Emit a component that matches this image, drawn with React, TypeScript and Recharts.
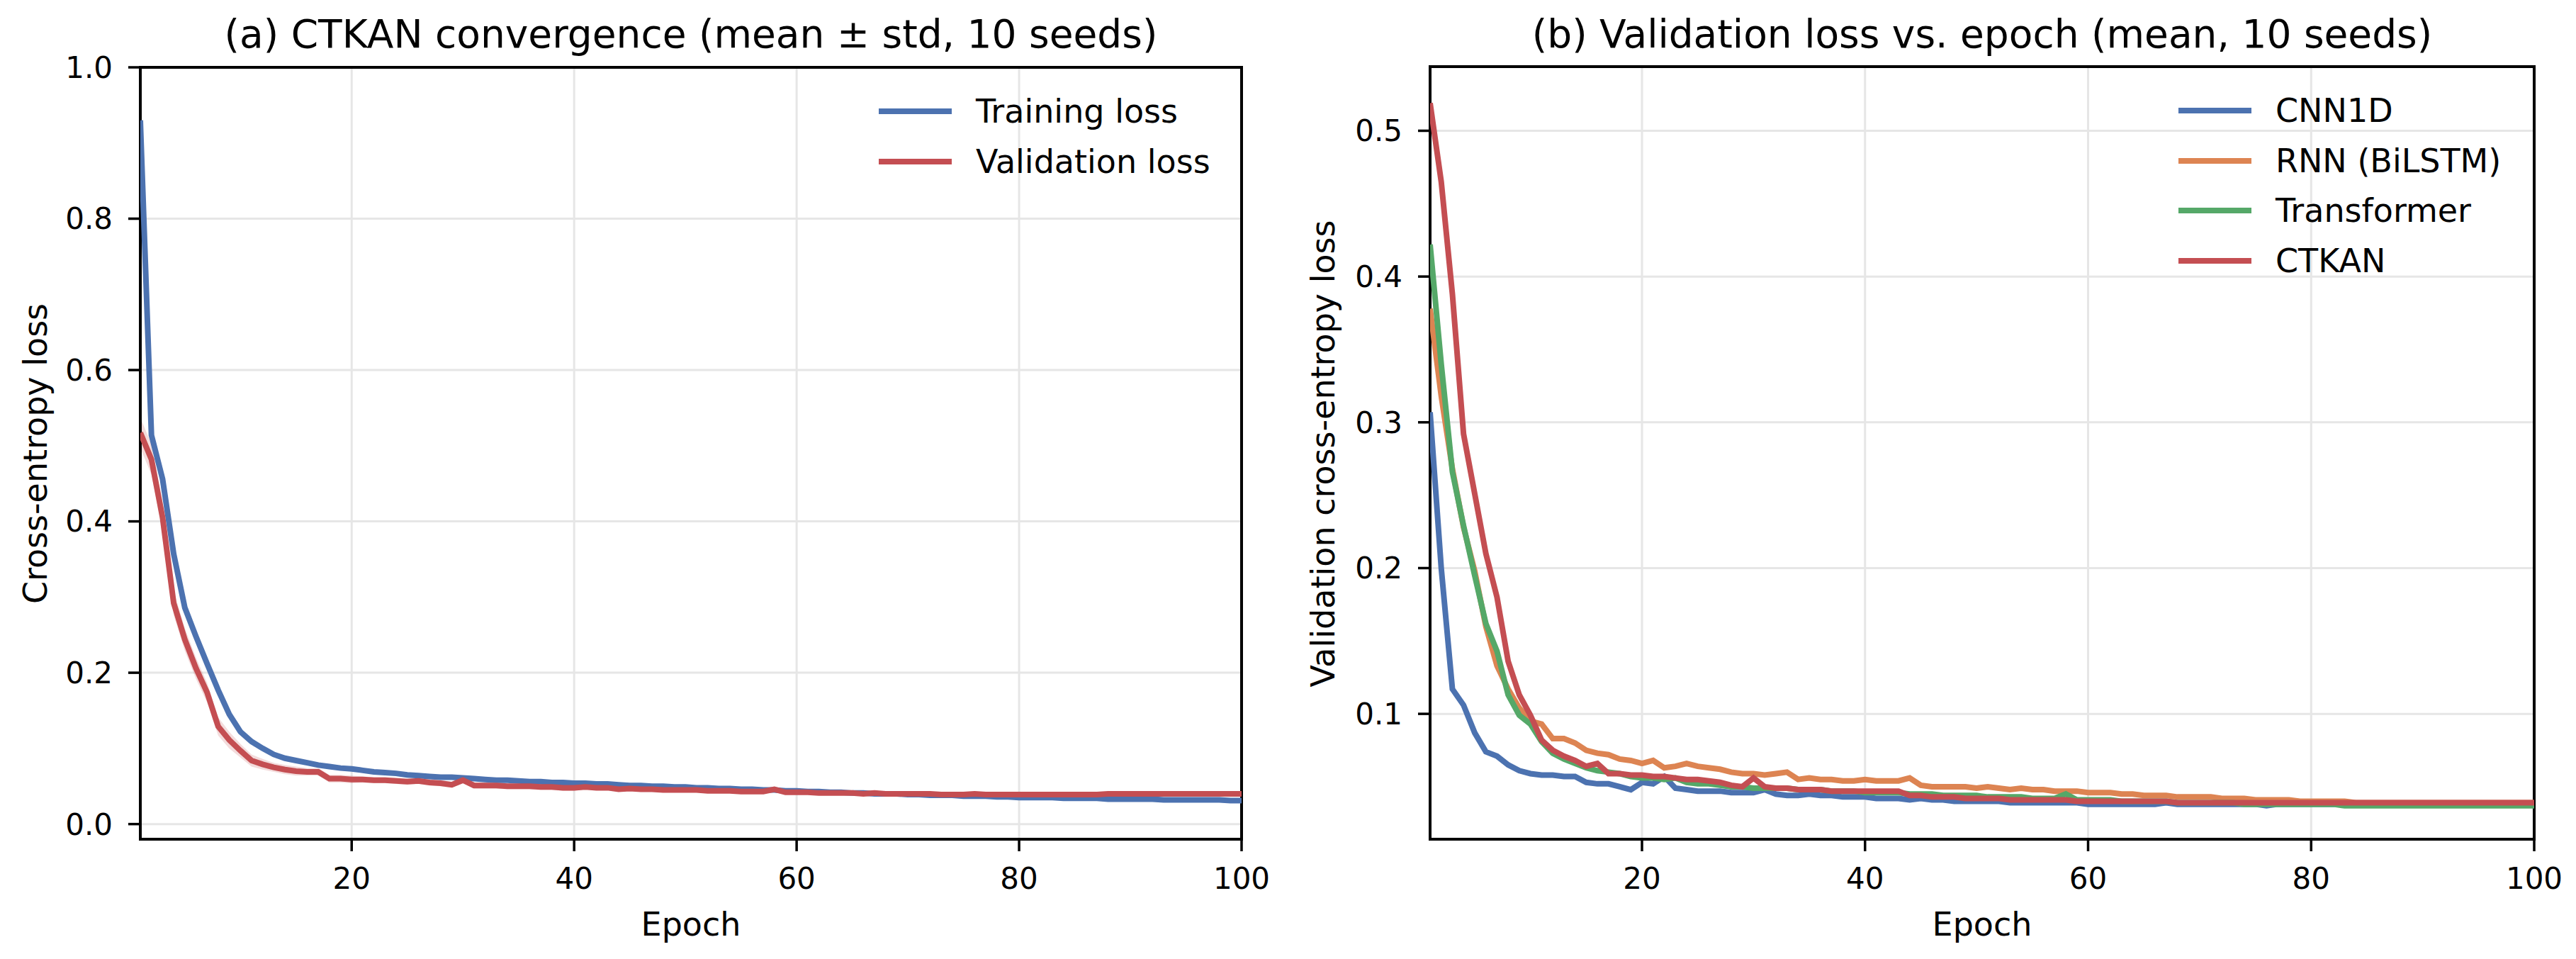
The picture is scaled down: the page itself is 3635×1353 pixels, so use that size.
import React from "react";
import {
  ComposedChart,
  LineChart,
  Line,
  Area,
  XAxis,
  YAxis,
  CartesianGrid,
  ReferenceArea,
  Legend,
} from "recharts";

const FONT = '"DejaVu Sans", sans-serif';
const BLUE = "#4C72B0";
const RED = "#C44E52";
const ORANGE = "#DD8452";
const GREEN = "#55A868";
const GRID = "#e6e6e6";

const EPOCH_TICKS = [20, 40, 60, 80, 100];
const Y_TICKS_A = [0, 0.2, 0.4, 0.6, 0.8, 1.0];
const Y_TICKS_B = [0.1, 0.2, 0.3, 0.4, 0.5];
const Y_DOMAIN_A: [number, number] = [-0.02, 1.0];
const Y_DOMAIN_B: [number, number] = [0.014, 0.544];

// (a) CTKAN mean curves and std over 10 seeds
const trainLoss = [
  0.930, 0.514, 0.456, 0.357, 0.286, 0.248, 0.212, 0.177, 0.145, 0.122,
  0.109, 0.100, 0.092, 0.087, 0.084, 0.081, 0.078, 0.076, 0.074, 0.073,
  0.071, 0.069, 0.068, 0.067, 0.065, 0.064, 0.063, 0.062, 0.062, 0.061,
  0.060, 0.059, 0.058, 0.058, 0.057, 0.056, 0.056, 0.055, 0.055, 0.054,
  0.054, 0.053, 0.053, 0.052, 0.051, 0.051, 0.050, 0.050, 0.049, 0.049,
  0.048, 0.048, 0.047, 0.047, 0.046, 0.046, 0.045, 0.045, 0.044, 0.044,
  0.043, 0.043, 0.042, 0.042, 0.041, 0.041, 0.040, 0.040, 0.040, 0.039,
  0.039, 0.038, 0.038, 0.038, 0.037, 0.037, 0.037, 0.036, 0.036, 0.035,
  0.035, 0.035, 0.035, 0.034, 0.034, 0.034, 0.034, 0.033, 0.033, 0.033,
  0.033, 0.033, 0.032, 0.032, 0.032, 0.032, 0.032, 0.032, 0.031, 0.031,
];
const trainStd = [
  0.010, 0.008, 0.007, 0.006, 0.005, 0.005, 0.004, 0.004, 0.004, 0.003,
  0.003, 0.003, 0.003, 0.003, 0.003, 0.003, 0.003, 0.003, 0.003, 0.003,
  0.002, 0.002, 0.002, 0.002, 0.002, 0.002, 0.002, 0.002, 0.002, 0.002,
  0.002, 0.002, 0.002, 0.002, 0.002, 0.002, 0.002, 0.002, 0.002, 0.002,
  0.002, 0.002, 0.002, 0.002, 0.002, 0.002, 0.002, 0.002, 0.002, 0.002,
  0.002, 0.002, 0.002, 0.002, 0.002, 0.002, 0.002, 0.002, 0.002, 0.002,
  0.002, 0.002, 0.002, 0.002, 0.002, 0.002, 0.002, 0.002, 0.002, 0.002,
  0.002, 0.002, 0.002, 0.002, 0.002, 0.002, 0.002, 0.002, 0.002, 0.002,
  0.002, 0.002, 0.002, 0.002, 0.002, 0.002, 0.002, 0.002, 0.002, 0.002,
  0.002, 0.002, 0.002, 0.002, 0.002, 0.002, 0.002, 0.002, 0.002, 0.002,
];
const valLoss = [
  0.517, 0.482, 0.405, 0.292, 0.244, 0.206, 0.174, 0.129, 0.111, 0.097,
  0.084, 0.079, 0.075, 0.072, 0.070, 0.069, 0.069, 0.060, 0.060, 0.059,
  0.059, 0.058, 0.058, 0.057, 0.056, 0.057, 0.055, 0.054, 0.052, 0.058,
  0.051, 0.051, 0.051, 0.050, 0.050, 0.050, 0.049, 0.049, 0.048, 0.048,
  0.049, 0.048, 0.048, 0.046, 0.047, 0.046, 0.046, 0.045, 0.045, 0.045,
  0.045, 0.044, 0.044, 0.044, 0.043, 0.043, 0.043, 0.046, 0.042, 0.042,
  0.042, 0.041, 0.041, 0.041, 0.041, 0.040, 0.041, 0.040, 0.040, 0.040,
  0.040, 0.040, 0.039, 0.039, 0.039, 0.040, 0.039, 0.039, 0.039, 0.039,
  0.039, 0.039, 0.039, 0.039, 0.039, 0.039, 0.039, 0.040, 0.040, 0.040,
  0.040, 0.040, 0.040, 0.040, 0.040, 0.040, 0.040, 0.040, 0.040, 0.040,
];
const valStd = [
  0.020, 0.020, 0.018, 0.016, 0.015, 0.014, 0.013, 0.012, 0.011, 0.009,
  0.008, 0.007, 0.006, 0.006, 0.006, 0.005, 0.005, 0.005, 0.005, 0.005,
  0.004, 0.004, 0.004, 0.004, 0.004, 0.004, 0.004, 0.004, 0.004, 0.004,
  0.004, 0.004, 0.004, 0.004, 0.004, 0.004, 0.004, 0.004, 0.004, 0.004,
  0.003, 0.003, 0.003, 0.003, 0.003, 0.003, 0.003, 0.003, 0.003, 0.003,
  0.003, 0.003, 0.003, 0.003, 0.003, 0.003, 0.003, 0.003, 0.003, 0.003,
  0.003, 0.003, 0.003, 0.003, 0.003, 0.003, 0.003, 0.003, 0.003, 0.003,
  0.003, 0.003, 0.003, 0.003, 0.003, 0.003, 0.003, 0.003, 0.003, 0.003,
  0.003, 0.003, 0.003, 0.003, 0.003, 0.003, 0.003, 0.003, 0.003, 0.003,
  0.003, 0.003, 0.003, 0.003, 0.003, 0.003, 0.003, 0.003, 0.003, 0.003,
];

// (b) validation loss per model
const cnn1d = [
  0.307, 0.200, 0.117, 0.106, 0.087, 0.074, 0.071, 0.065, 0.061, 0.059,
  0.058, 0.058, 0.057, 0.057, 0.053, 0.052, 0.052, 0.050, 0.048, 0.053,
  0.052, 0.057, 0.049, 0.048, 0.047, 0.047, 0.047, 0.046, 0.046, 0.046,
  0.048, 0.045, 0.044, 0.044, 0.045, 0.044, 0.044, 0.043, 0.043, 0.043,
  0.042, 0.042, 0.042, 0.041, 0.042, 0.041, 0.041, 0.040, 0.040, 0.040,
  0.040, 0.040, 0.039, 0.039, 0.039, 0.039, 0.039, 0.039, 0.039, 0.038,
  0.038, 0.038, 0.038, 0.038, 0.038, 0.038, 0.039, 0.038, 0.038, 0.038,
  0.038, 0.038, 0.038, 0.038, 0.038, 0.037, 0.038, 0.038, 0.038, 0.038,
  0.038, 0.038, 0.038, 0.038, 0.038, 0.038, 0.038, 0.038, 0.038, 0.038,
  0.038, 0.038, 0.038, 0.038, 0.038, 0.038, 0.038, 0.038, 0.038, 0.038,
];
const rnn = [
  0.378, 0.318, 0.268, 0.228, 0.198, 0.160, 0.133, 0.117, 0.104, 0.095,
  0.093, 0.083, 0.083, 0.080, 0.075, 0.073, 0.072, 0.069, 0.068, 0.066,
  0.068, 0.063, 0.064, 0.066, 0.064, 0.063, 0.062, 0.060, 0.059, 0.059,
  0.058, 0.059, 0.060, 0.055, 0.056, 0.055, 0.055, 0.054, 0.054, 0.055,
  0.054, 0.054, 0.054, 0.056, 0.051, 0.050, 0.050, 0.050, 0.050, 0.049,
  0.050, 0.049, 0.048, 0.049, 0.048, 0.048, 0.047, 0.047, 0.047, 0.046,
  0.046, 0.046, 0.045, 0.045, 0.044, 0.044, 0.044, 0.043, 0.043, 0.043,
  0.043, 0.042, 0.042, 0.042, 0.041, 0.041, 0.041, 0.041, 0.040, 0.040,
  0.040, 0.040, 0.040, 0.039, 0.039, 0.039, 0.039, 0.039, 0.039, 0.039,
  0.039, 0.039, 0.039, 0.039, 0.039, 0.039, 0.039, 0.039, 0.039, 0.039,
];
const transformer = [
  0.422, 0.340, 0.266, 0.229, 0.195, 0.162, 0.143, 0.113, 0.099, 0.093,
  0.081, 0.073, 0.069, 0.066, 0.063, 0.061, 0.060, 0.059, 0.057, 0.056,
  0.056, 0.055, 0.056, 0.053, 0.052, 0.052, 0.051, 0.050, 0.050, 0.049,
  0.049, 0.049, 0.049, 0.048, 0.048, 0.048, 0.047, 0.047, 0.047, 0.046,
  0.046, 0.046, 0.046, 0.045, 0.045, 0.045, 0.044, 0.044, 0.044, 0.044,
  0.043, 0.043, 0.043, 0.043, 0.042, 0.042, 0.042, 0.045, 0.041, 0.041,
  0.041, 0.041, 0.040, 0.040, 0.040, 0.040, 0.040, 0.039, 0.039, 0.039,
  0.039, 0.039, 0.039, 0.038, 0.038, 0.038, 0.038, 0.038, 0.038, 0.038,
  0.038, 0.038, 0.037, 0.037, 0.037, 0.037, 0.037, 0.037, 0.037, 0.037,
  0.037, 0.037, 0.037, 0.037, 0.037, 0.037, 0.037, 0.037, 0.037, 0.037,
];
const ctkan = [
  0.519, 0.465, 0.388, 0.292, 0.251, 0.210, 0.180, 0.136, 0.113, 0.099,
  0.082, 0.075, 0.071, 0.068, 0.064, 0.066, 0.059, 0.059, 0.058, 0.058,
  0.057, 0.057, 0.056, 0.055, 0.055, 0.054, 0.053, 0.051, 0.050, 0.056,
  0.050, 0.049, 0.049, 0.048, 0.048, 0.048, 0.047, 0.047, 0.047, 0.047,
  0.047, 0.047, 0.047, 0.044, 0.044, 0.043, 0.043, 0.043, 0.042, 0.042,
  0.042, 0.042, 0.041, 0.041, 0.041, 0.041, 0.041, 0.041, 0.040, 0.040,
  0.040, 0.040, 0.040, 0.040, 0.040, 0.040, 0.040, 0.039, 0.039, 0.039,
  0.039, 0.039, 0.039, 0.039, 0.039, 0.039, 0.039, 0.039, 0.039, 0.039,
  0.039, 0.039, 0.039, 0.039, 0.039, 0.039, 0.039, 0.039, 0.039, 0.039,
  0.039, 0.039, 0.039, 0.039, 0.039, 0.039, 0.039, 0.039, 0.039, 0.039,
];

const dataA = trainLoss.map((t, i) => ({
  epoch: i + 1,
  train: t,
  val: valLoss[i],
  trainBand: [t - trainStd[i], t + trainStd[i]],
  valBand: [valLoss[i] - valStd[i], valLoss[i] + valStd[i]],
}));

const dataB = cnn1d.map((c, i) => ({
  epoch: i + 1,
  cnn1d: c,
  rnn: rnn[i],
  transformer: transformer[i],
  ctkan: ctkan[i],
}));

const LEGEND_A = [
  { label: "Training loss", color: BLUE },
  { label: "Validation loss", color: RED },
];
const LEGEND_B = [
  { label: "CNN1D", color: BLUE },
  { label: "RNN (BiLSTM)", color: ORANGE },
  { label: "Transformer", color: GREEN },
  { label: "CTKAN", color: RED },
];

const tickStyle = { fill: "#000", fontSize: 42, fontFamily: FONT };
const tickLine = { stroke: "#000", strokeWidth: 3.5 };
const fmt = (v: number) => v.toFixed(1);

function LegendRows({ items }: { items: { label: string; color: string }[] }) {
  return (
    <div style={{ fontFamily: FONT, fontSize: 46, color: "#000" }}>
      {items.map((it) => (
        <div key={it.label} style={{ display: "flex", alignItems: "center", height: 70.5, lineHeight: "70.5px" }}>
          <span style={{ display: "inline-block", width: 103, height: 8, background: it.color, marginRight: 34 }} />
          <span style={{ whiteSpace: "nowrap" }}>{it.label}</span>
        </div>
      ))}
    </div>
  );
}

function TextAt({ x, y, size, children }: { x: number; y: number; size: number; children: React.ReactNode }) {
  return (
    <div
      style={{
        position: "absolute",
        left: x,
        top: y,
        transform: "translateX(-50%)",
        fontFamily: FONT,
        fontSize: size,
        lineHeight: `${size}px`,
        whiteSpace: "nowrap",
        color: "#000",
      }}
    >
      {children}
    </div>
  );
}

function VText({ x, y, children }: { x: number; y: number; children: React.ReactNode }) {
  return (
    <div
      style={{
        position: "absolute",
        left: x,
        top: y,
        transform: "translate(-50%, -50%) rotate(-90deg)",
        fontFamily: FONT,
        fontSize: 46,
        lineHeight: "46px",
        whiteSpace: "nowrap",
        color: "#000",
      }}
    >
      {children}
    </div>
  );
}

function PanelA() {
  return (
    <ComposedChart width={1800} height={1353} data={dataA} margin={{ top: 95, right: 48, bottom: 69, left: 0 }}>
      <CartesianGrid stroke={GRID} strokeWidth={3} />
      <XAxis
        dataKey="epoch"
        type="number"
        domain={[1, 100]}
        ticks={EPOCH_TICKS}
        allowDataOverflow
        height={100}
        axisLine={false}
        tickLine={tickLine}
        tickSize={17}
        tickMargin={23}
        tick={tickStyle}
        interval={0}
      />
      <YAxis
        type="number"
        domain={Y_DOMAIN_A}
        ticks={Y_TICKS_A}
        allowDataOverflow
        width={198}
        axisLine={false}
        tickLine={tickLine}
        tickSize={17}
        tickMargin={22}
        tick={tickStyle}
        tickFormatter={fmt}
        interval={0}
      />
      <Area type="linear" dataKey="trainBand" stroke="none" fill={BLUE} fillOpacity={0.2} isAnimationActive={false} activeDot={false} />
      <Area type="linear" dataKey="valBand" stroke="none" fill={RED} fillOpacity={0.2} isAnimationActive={false} activeDot={false} />
      <Line type="linear" dataKey="train" stroke={BLUE} strokeWidth={8} dot={false} isAnimationActive={false} />
      <Line type="linear" dataKey="val" stroke={RED} strokeWidth={8} dot={false} isAnimationActive={false} />
      <ReferenceArea x1={1} x2={100} y1={Y_DOMAIN_A[0]} y2={Y_DOMAIN_A[1]} fill="none" fillOpacity={0} stroke="#000" strokeWidth={4} ifOverflow="visible" />
      <Legend
        layout="vertical"
        align="center"
        verticalAlign="middle"
        wrapperStyle={{ top: 122, left: 1240, width: "auto", height: "auto" }}
        content={() => <LegendRows items={LEGEND_A} />}
      />
    </ComposedChart>
  );
}

function PanelB() {
  return (
    <LineChart width={1820} height={1353} data={dataB} margin={{ top: 94, right: 59, bottom: 69, left: 0 }}>
      <CartesianGrid stroke={GRID} strokeWidth={3} />
      <XAxis
        dataKey="epoch"
        type="number"
        domain={[1, 100]}
        ticks={EPOCH_TICKS}
        allowDataOverflow
        height={100}
        axisLine={false}
        tickLine={tickLine}
        tickSize={17}
        tickMargin={23}
        tick={tickStyle}
        interval={0}
      />
      <YAxis
        type="number"
        domain={Y_DOMAIN_B}
        ticks={Y_TICKS_B}
        allowDataOverflow
        width={203}
        axisLine={false}
        tickLine={tickLine}
        tickSize={17}
        tickMargin={22}
        tick={tickStyle}
        tickFormatter={fmt}
        interval={0}
      />
      <Line type="linear" dataKey="cnn1d" stroke={BLUE} strokeWidth={8} dot={false} isAnimationActive={false} />
      <Line type="linear" dataKey="rnn" stroke={ORANGE} strokeWidth={8} dot={false} isAnimationActive={false} />
      <Line type="linear" dataKey="transformer" stroke={GREEN} strokeWidth={8} dot={false} isAnimationActive={false} />
      <Line type="linear" dataKey="ctkan" stroke={RED} strokeWidth={8} dot={false} isAnimationActive={false} />
      <ReferenceArea x1={1} x2={100} y1={Y_DOMAIN_B[0]} y2={Y_DOMAIN_B[1]} fill="none" fillOpacity={0} stroke="#000" strokeWidth={4} ifOverflow="visible" />
      <Legend
        layout="vertical"
        align="center"
        verticalAlign="middle"
        wrapperStyle={{ top: 121, left: 1259, width: "auto", height: "auto" }}
        content={() => <LegendRows items={LEGEND_B} />}
      />
    </LineChart>
  );
}

export default function App() {
  return (
    <div style={{ position: "relative", width: 3635, height: 1353, background: "#fff", overflow: "hidden" }}>
      <style>{"body{margin:0}"}</style>
      <div style={{ position: "absolute", left: 0, top: 0 }}>
        <PanelA />
      </div>
      <div style={{ position: "absolute", left: 1815, top: 0 }}>
        <PanelB />
      </div>
      <TextAt x={975} y={21} size={55}>(a) CTKAN convergence (mean ± std, 10 seeds)</TextAt>
      <TextAt x={2797} y={21} size={55}>(b) Validation loss vs. epoch (mean, 10 seeds)</TextAt>
      <TextAt x={975} y={1281} size={46}>Epoch</TextAt>
      <TextAt x={2797} y={1281} size={46}>Epoch</TextAt>
      <VText x={50} y={640}>Cross-entropy loss</VText>
      <VText x={1867} y={640}>Validation cross-entropy loss</VText>
    </div>
  );
}
